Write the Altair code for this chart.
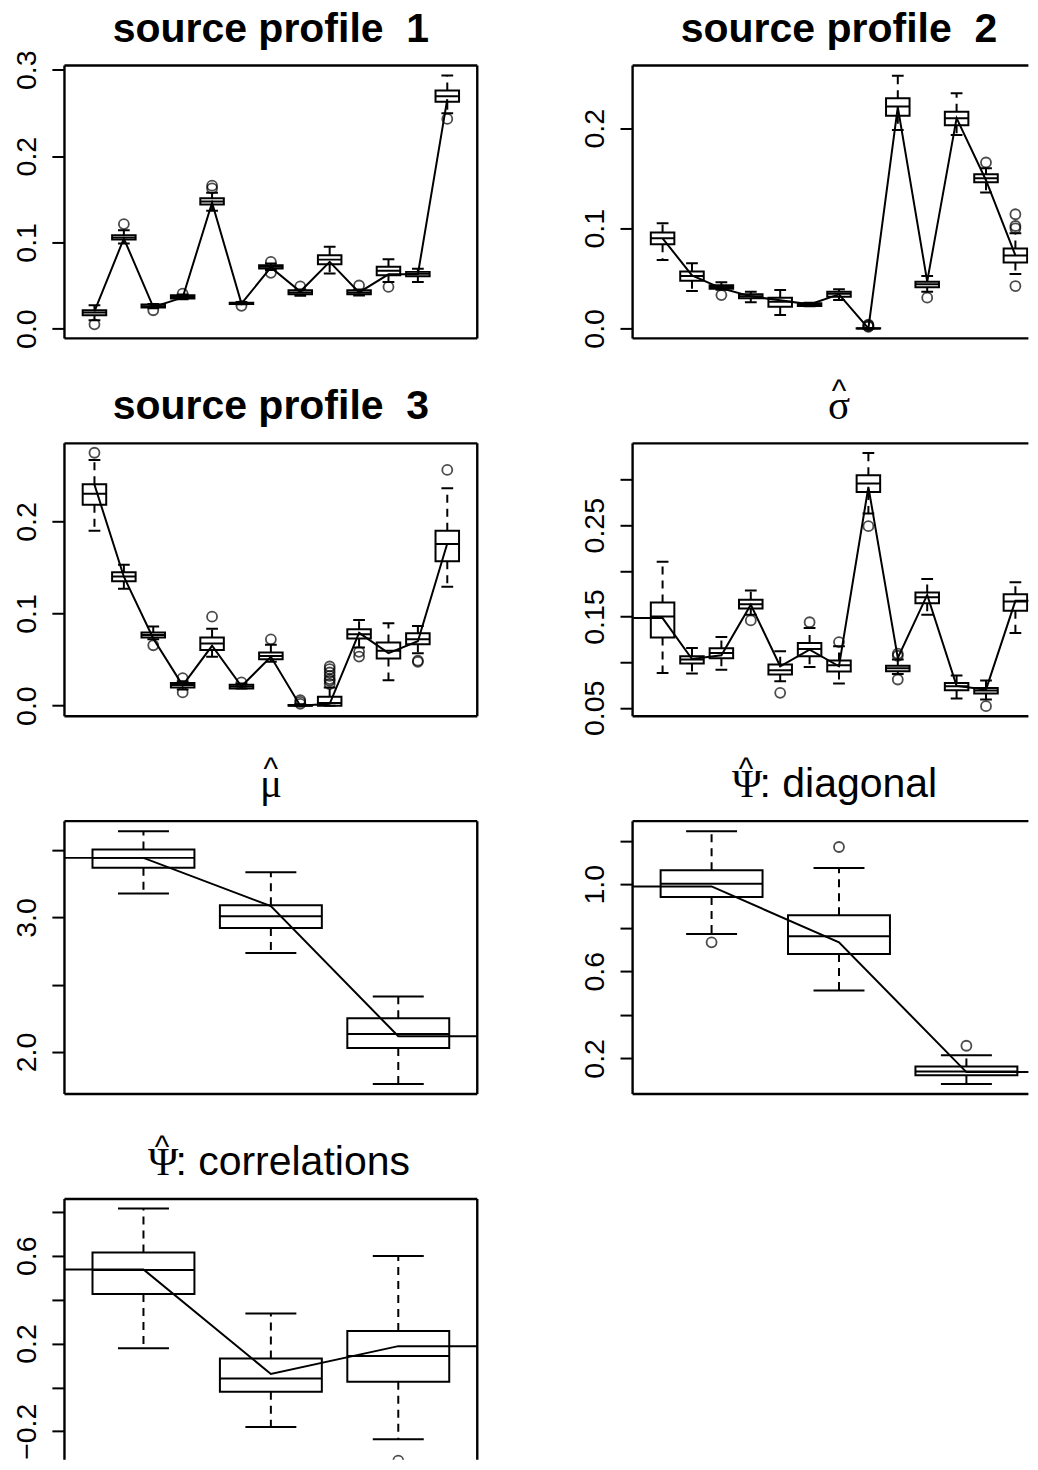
import altair as alt
import pandas as pd

SANS = "Liberation Sans"
SERIF = "Liberation Serif"
LW = 2.0
FRAME_W = 2.4
FULL_W = 413      # nominal plot width of every panel
RIGHT_W = 396     # right column is cut by the picture edge
PANEL_H = 273
LAST_H = 261      # bottom panel is cut by the picture edge
TITLE_Y = -24     # title baseline, relative to plot top

# ---------------- source profile 1 ----------------
SP1_LO = [0.0097, 0.0987, 0.0235, 0.0340, 0.1367, 0.0283, 0.0680, 0.0380, 0.0639, 0.0385, 0.0542, 0.0542, 0.2497]
SP1_Q1 = [0.0155, 0.1034, 0.0244, 0.0348, 0.1440, 0.0285, 0.0697, 0.0399, 0.0747, 0.0399, 0.0620, 0.0608, 0.2630]
SP1_MED = [0.0186, 0.1057, 0.0260, 0.0368, 0.1475, 0.0292, 0.0716, 0.0420, 0.0800, 0.0420, 0.0670, 0.0635, 0.2695]
SP1_Q3 = [0.0213, 0.1084, 0.0279, 0.0387, 0.1510, 0.0300, 0.0736, 0.0445, 0.0852, 0.0445, 0.0716, 0.0658, 0.2760]
SP1_HI = [0.0270, 0.1140, 0.0285, 0.0395, 0.1576, 0.0310, 0.0755, 0.0453, 0.0949, 0.0455, 0.0805, 0.0693, 0.2935]
SP1_OUT_BOX = [1, 2, 3, 4, 5, 5, 6, 7, 7, 8, 10, 11, 13]
SP1_OUT_VAL = [0.0050, 0.1212, 0.0213, 0.0406, 0.1657, 0.1626, 0.0265, 0.0774, 0.0647, 0.0490, 0.0500, 0.0484, 0.2431]
SP1_TRUE = [0.0200, 0.1045, 0.0250, 0.0360, 0.1460, 0.0290, 0.0710, 0.0430, 0.0774, 0.0420, 0.0630, 0.0630, 0.2660]

# ---------------- source profile 2 ----------------
SP2_LO = [0.0683, 0.0373, 0.0385, 0.0260, 0.0133, 0.0222, 0.0283, 0.0000, 0.1983, 0.0367, 0.1933, 0.1357, 0.0543]
SP2_Q1 = [0.0840, 0.0477, 0.0397, 0.0300, 0.0217, 0.0223, 0.0317, 0.0000, 0.2123, 0.0410, 0.2030, 0.1460, 0.0657]
SP2_MED = [0.0900, 0.0523, 0.0413, 0.0320, 0.0267, 0.0237, 0.0347, 0.0000, 0.2217, 0.0440, 0.2100, 0.1500, 0.0727]
SP2_Q3 = [0.0957, 0.0567, 0.0430, 0.0340, 0.0307, 0.0250, 0.0367, 0.0002, 0.2300, 0.0467, 0.2163, 0.1540, 0.0797]
SP2_HI = [0.1050, 0.0650, 0.0460, 0.0367, 0.0383, 0.0257, 0.0390, 0.0005, 0.2523, 0.0523, 0.2350, 0.1600, 0.0950]
SP2_OUT_BOX = [3, 8, 8, 8, 8, 10, 12, 13, 13, 13, 13]
SP2_OUT_VAL = [0.0333, 0.0015, 0.0022, 0.0030, 0.0038, 0.0307, 0.1657, 0.1140, 0.1023, 0.1000, 0.0423]
SP2_TRUE = [0.0900, 0.0530, 0.0400, 0.0320, 0.0280, 0.0240, 0.0340, 0.0000, 0.2210, 0.0470, 0.2100, 0.1480, 0.0730]

# ---------------- source profile 3 ----------------
SP3_LO = [0.1900, 0.1268, 0.0720, 0.0175, 0.0530, 0.0185, 0.0476, 0.0000, 0.0000, 0.0630, 0.0277, 0.0570, 0.1290]
SP3_Q1 = [0.2180, 0.1351, 0.0739, 0.0198, 0.0605, 0.0187, 0.0505, 0.0000, 0.0000, 0.0728, 0.0512, 0.0667, 0.1568]
SP3_MED = [0.2300, 0.1402, 0.0768, 0.0223, 0.0674, 0.0209, 0.0540, 0.0002, 0.0030, 0.0775, 0.0595, 0.0721, 0.1755]
SP3_Q3 = [0.2404, 0.1449, 0.0793, 0.0245, 0.0739, 0.0227, 0.0577, 0.0008, 0.0097, 0.0829, 0.0685, 0.0786, 0.1900]
SP3_HI = [0.2667, 0.1530, 0.0858, 0.0265, 0.0836, 0.0240, 0.0660, 0.0015, 0.0198, 0.0930, 0.0894, 0.0865, 0.2360]
SP3_OUT_BOX = [1, 3, 4, 4, 5, 6, 7, 8, 8, 8, 9, 9, 9, 9, 9, 9, 9, 10, 10, 12, 12, 13]
SP3_OUT_VAL = [0.2746, 0.0656, 0.0299, 0.0144, 0.0966, 0.0252, 0.0720, 0.0020, 0.0040, 0.0060,
               0.0235, 0.0270, 0.0288, 0.0324, 0.0360, 0.0396, 0.0425, 0.0584, 0.0533, 0.0476, 0.0488, 0.2559]
SP3_TRUE = [0.2400, 0.1400, 0.0730, 0.0220, 0.0650, 0.0210, 0.0530, 0.0000, 0.0020, 0.0790, 0.0570, 0.0700, 0.1760]

# ---------------- sigma hat ----------------
SIG_LO = [0.0882, 0.0875, 0.0918, 0.1520, 0.0790, 0.0948, 0.0766, 0.2629, 0.0870, 0.1519, 0.0602, 0.0591, 0.1319]
SIG_Q1 = [0.1271, 0.0984, 0.1042, 0.1588, 0.0864, 0.1064, 0.0897, 0.2865, 0.0900, 0.1646, 0.0693, 0.0656, 0.1563]
SIG_MED = [0.1500, 0.1028, 0.1100, 0.1635, 0.0911, 0.1144, 0.0966, 0.2956, 0.0933, 0.1712, 0.0737, 0.0689, 0.1664]
SIG_Q3 = [0.1654, 0.1064, 0.1151, 0.1683, 0.0973, 0.1210, 0.1017, 0.3047, 0.0962, 0.1763, 0.0773, 0.0718, 0.1745]
SIG_HI = [0.2101, 0.1155, 0.1275, 0.1785, 0.1119, 0.1373, 0.1173, 0.3291, 0.1028, 0.1912, 0.0853, 0.0798, 0.1876]
SIG_OUT_BOX = [4, 5, 6, 7, 8, 9, 9, 9, 12]
SIG_OUT_VAL = [0.1457, 0.0664, 0.1437, 0.1220, 0.2490, 0.1093, 0.1070, 0.0810, 0.0518]
SIG_TRUE = [0.1483, 0.1035, 0.1075, 0.1630, 0.0955, 0.1137, 0.0955, 0.2920, 0.1046, 0.1737, 0.0740, 0.0700, 0.1672]

# ---------------- mu hat ----------------
MU_LO = [3.178, 2.736, 1.762]
MU_Q1 = [3.369, 2.922, 2.030]
MU_MED = [3.443, 3.009, 2.134]
MU_Q3 = [3.505, 3.091, 2.250]
MU_HI = [3.641, 3.336, 2.412]
MU_OUT_BOX = []
MU_OUT_VAL = []
MU_TRUE = [3.443, 3.084, 2.117]

# ---------------- Psi hat: diagonal ----------------
PD_LO = [0.771, 0.512, 0.082]
PD_Q1 = [0.941, 0.679, 0.123]
PD_MED = [1.0025, 0.7605, 0.140]
PD_Q3 = [1.064, 0.857, 0.163]
PD_HI = [1.243, 1.074, 0.214]
PD_OUT_BOX = [1, 2, 3]
PD_OUT_VAL = [0.733, 1.171, 0.258]
PD_TRUE = [0.990, 0.733, 0.137]

# ---------------- Psi hat: correlations ----------------
PC_LO = [0.178, -0.181, -0.236]
PC_Q1 = [0.4255, -0.0198, 0.026]
PC_MED = [0.535, 0.041, 0.143]
PC_Q3 = [0.6155, 0.132, 0.257]
PC_HI = [0.816, 0.337, 0.599]
PC_OUT_BOX = [3]
PC_OUT_VAL = [-0.334]
PC_TRUE = [0.538, 0.061, 0.188]

ONE = pd.DataFrame({"k": [0]})


def text_layer(txt, x, y, font, size, weight="normal", align="center"):
    return alt.Chart(pd.DataFrame({"t": [txt]})).mark_text(
        font=font, fontSize=size, fontWeight=weight, color="black",
        align=align, baseline="alphabetic").encode(
        text="t:N", x=alt.value(x), y=alt.value(y))


def frame_layers(width, height, right_side, bottom_side):
    kw = dict(color="black", strokeWidth=FRAME_W)
    c = alt.Chart(ONE)
    out = [
        c.mark_rule(**kw).encode(x=alt.value(0), x2=alt.value(width), y=alt.value(0)),
        c.mark_rule(**kw).encode(x=alt.value(0), y=alt.value(0), y2=alt.value(height)),
    ]
    if bottom_side:
        out.append(c.mark_rule(**kw).encode(x=alt.value(0), x2=alt.value(width), y=alt.value(height)))
    if right_side:
        out.append(c.mark_rule(**kw).encode(x=alt.value(width), y=alt.value(0), y2=alt.value(height)))
    return out


def make_panel(lo, q1, med, q3, hi, out_box, out_val, truth, ydom, ticks, fmt,
               label_expr, title_layers, extend, right_col, height=PANEL_H):
    n = len(med)
    pos = list(range(1, n + 1))
    boxes = pd.DataFrame({"pos": pos, "lo": lo, "q1": q1, "med": med, "q3": q3, "hi": hi})
    boxes["bl"] = boxes["pos"] - 0.4
    boxes["br"] = boxes["pos"] + 0.4
    boxes["cl"] = boxes["pos"] - 0.2
    boxes["cr"] = boxes["pos"] + 0.2
    outs = pd.DataFrame({"pos": pd.Series(out_box, dtype=float), "val": pd.Series(out_val, dtype=float)})
    if extend:
        tx = [0] + pos + [n + 1]
        ty = [truth[0]] + list(truth) + [truth[-1]]
    else:
        tx, ty = pos, list(truth)
    tru = pd.DataFrame({"pos": tx, "val": ty})

    width = RIGHT_W if right_col else FULL_W
    pad = 0.04 * n
    x0, x1 = 0.5 - pad, n + 0.5 + pad
    x1 = x0 + (x1 - x0) * width / FULL_W
    y0, y1 = ydom
    y0 = y1 - (y1 - y0) * height / PANEL_H
    xs = alt.Scale(domain=[x0, x1], nice=False, zero=False)
    ys = alt.Scale(domain=[y0, y1], nice=False, zero=False)
    axis_kw = dict(values=ticks, format=fmt, title=None)
    if label_expr:
        axis_kw["labelExpr"] = label_expr
    yax = alt.Axis(**axis_kw)

    def X(f):
        return alt.X(f"{f}:Q", scale=xs, axis=None)

    def Y(f):
        return alt.Y(f"{f}:Q", scale=ys, axis=yax)

    rule_kw = dict(color="black", strokeWidth=LW)
    bb = alt.Chart(boxes)
    wl = bb.mark_rule(strokeDash=[8, 6], clip=True, **rule_kw).encode(x=X("pos"), y=Y("q1"), y2="lo")
    wh = bb.mark_rule(strokeDash=[8, 6], clip=True, **rule_kw).encode(x=X("pos"), y=Y("q3"), y2="hi")
    cl = bb.mark_rule(clip=True, **rule_kw).encode(x=X("cl"), x2="cr", y=Y("lo"))
    ch = bb.mark_rule(clip=True, **rule_kw).encode(x=X("cl"), x2="cr", y=Y("hi"))
    bx = bb.mark_rect(fill="white", fillOpacity=0, stroke="black", strokeWidth=LW, clip=True).encode(
        x=X("bl"), x2="br", y=Y("q1"), y2="q3")
    md = bb.mark_rule(clip=True, **rule_kw).encode(x=X("bl"), x2="br", y=Y("med"))
    pt = alt.Chart(outs).mark_point(shape="circle", filled=False, size=100, color="black",
                                    strokeWidth=1.8, clip=True).encode(x=X("pos"), y=Y("val"))
    ln = alt.Chart(tru).mark_line(color="black", strokeWidth=LW, clip=True).encode(
        x=X("pos"), y=Y("val"))

    layers = ([wl, wh, cl, ch, bx, md, pt, ln]
              + frame_layers(width, height, not right_col, height == PANEL_H)
              + title_layers)
    return alt.layer(*layers).properties(width=width, height=height)


CX = FULL_W / 2
HAT_Y = TITLE_Y - 18


def bold_title(txt):
    return [text_layer(txt, CX, TITLE_Y, SANS, 41, "bold")]


def hat_title(sym):
    return [text_layer(sym, CX, TITLE_Y, SERIF, 41),
            text_layer("^", CX, HAT_Y, SANS, 31)]


def psi_title(rest, psi_x):
    return [text_layer("Ψ", psi_x, TITLE_Y, SERIF, 41, align="left"),
            text_layer(rest, psi_x + 27.5, TITLE_Y, SANS, 41, align="left"),
            text_layer("^", psi_x + 14, HAT_Y, SANS, 31)]


p1 = make_panel(SP1_LO, SP1_Q1, SP1_MED, SP1_Q3, SP1_HI, SP1_OUT_BOX, SP1_OUT_VAL, SP1_TRUE,
                [-0.0113, 0.305], [0.0, 0.1, 0.2, 0.3], ".1f", None,
                bold_title("source profile\u00a0 1"), False, False)
p2 = make_panel(SP2_LO, SP2_Q1, SP2_MED, SP2_Q3, SP2_HI, SP2_OUT_BOX, SP2_OUT_VAL, SP2_TRUE,
                [-0.010, 0.2626], [0.0, 0.1, 0.2], ".1f", None,
                bold_title("source profile\u00a0 2"), False, True)
p3 = make_panel(SP3_LO, SP3_Q1, SP3_MED, SP3_Q3, SP3_HI, SP3_OUT_BOX, SP3_OUT_VAL, SP3_TRUE,
                [-0.01146, 0.2848], [0.0, 0.1, 0.2], ".1f", None,
                bold_title("source profile\u00a0 3"), False, False)
p4 = make_panel(SIG_LO, SIG_Q1, SIG_MED, SIG_Q3, SIG_HI, SIG_OUT_BOX, SIG_OUT_VAL, SIG_TRUE,
                [0.0408, 0.3397], [0.05, 0.10, 0.15, 0.20, 0.25, 0.30], ".2f",
                "round(datum.value*100) % 10 == 5 ? datum.label : ''",
                hat_title("σ"), True, True)
p5 = make_panel(MU_LO, MU_Q1, MU_MED, MU_Q3, MU_HI, MU_OUT_BOX, MU_OUT_VAL, MU_TRUE,
                [1.6875, 3.716], [2.0, 2.5, 3.0, 3.5], ".1f",
                "round(datum.value*10) % 10 == 0 ? datum.label : ''",
                hat_title("μ"), True, False)
p6 = make_panel(PD_LO, PD_Q1, PD_MED, PD_Q3, PD_HI, PD_OUT_BOX, PD_OUT_VAL, PD_TRUE,
                [0.0363, 1.2897], [0.2, 0.4, 0.6, 0.8, 1.0, 1.2], ".1f",
                "abs(round(datum.value*10)) % 4 == 2 ? datum.label : ''",
                psi_title(": diagonal", 99.5), True, True)
p7 = make_panel(PC_LO, PC_Q1, PC_MED, PC_Q3, PC_HI, PC_OUT_BOX, PC_OUT_VAL, PC_TRUE,
                [-0.385, 0.859], [-0.2, 0.0, 0.2, 0.4, 0.6, 0.8], ".1f",
                "abs(round(datum.value*10)) % 4 == 2 ? datum.label : ''",
                psi_title(": correlations", 83.5), True, False, height=LAST_H)

chart = alt.concat(
    p1, p2, p3, p4, p5, p6, p7,
    columns=2,
    spacing={"row": 105, "column": 155.4},
    bounds="flush",
    align="each",
).properties(
    padding={"left": 3.5, "top": 0.2, "right": 0, "bottom": 0},
    background="white",
).configure_view(
    stroke="transparent", strokeWidth=0,
).configure_axis(
    domain=False, grid=False, ticks=True, tickColor="black", tickWidth=2, tickSize=12.6,
    labelFont=SANS, labelFontSize=28.5, labelColor="black", labelAngle=270,
    labelAlign="center", labelBaseline="alphabetic", labelPadding=16.7,
    labelOverlap=False, labelFlush=False,
)

chart.save("out.html", embed_options={"renderer": "svg", "actions": False})
